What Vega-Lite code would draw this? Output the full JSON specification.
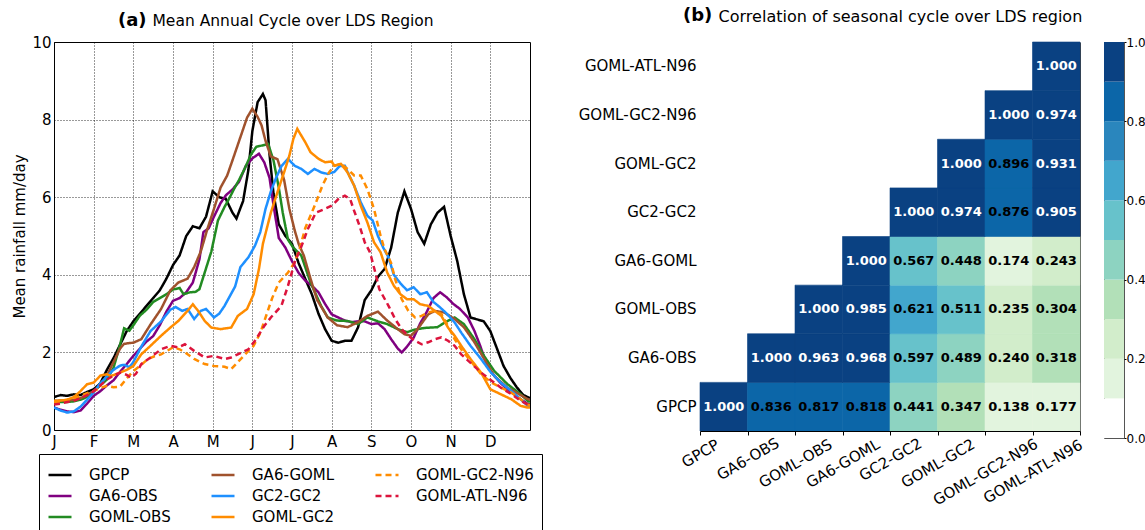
{
  "$schema": "https://vega.github.io/schema/vega-lite/v6.json",
  "padding": {"left": 12, "top": 6, "right": 0, "bottom": 0},
  "config": {
    "font": "DejaVu Sans",
    "view": {"stroke": null},
    "axis": {"labelColor": "black", "titleColor": "black", "domainColor": "black", "tickColor": "black", "labelFont": "DejaVu Sans", "titleFont": "DejaVu Sans"},
    "title": {"font": "DejaVu Sans", "subtitleFont": "DejaVu Sans", "color": "black", "subtitleColor": "black"}
  },
  "bounds": "flush",
  "spacing": 170,
  "resolve": {"scale": {"color": "independent", "strokeDash": "independent"}},
  "hconcat": [
    {
      "width": 476,
      "height": 388,
      "view": {"stroke": "black", "strokeWidth": 1},
      "title": {"text": "(a)", "subtitle": "\u200b\u00a0\u00a0\u00a0\u00a0\u00a0\u00a0\u00a0Mean Annual Cycle over LDS Region", "anchor": "start", "frame": "group", "dx": 64, "fontSize": 18, "fontWeight": "bold", "subtitleFontSize": 15.5, "subtitleFontWeight": "normal", "subtitlePadding": -16, "offset": 5},
      "data": {"values": [
        {"s":"GPCP","d":0,"v":0.85},{"s":"GPCP","d":5,"v":0.9},{"s":"GPCP","d":10,"v":0.88},{"s":"GPCP","d":15,"v":0.92},{"s":"GPCP","d":20,"v":0.9},{"s":"GPCP","d":25,"v":0.98},{"s":"GPCP","d":30,"v":1.05},{"s":"GPCP","d":35,"v":1.2},{"s":"GPCP","d":40,"v":1.55},{"s":"GPCP","d":45,"v":1.85},{"s":"GPCP","d":50,"v":2.2},{"s":"GPCP","d":55,"v":2.55},{"s":"GPCP","d":60,"v":2.8},{"s":"GPCP","d":65,"v":3.0},{"s":"GPCP","d":70,"v":3.2},{"s":"GPCP","d":75,"v":3.4},{"s":"GPCP","d":80,"v":3.6},{"s":"GPCP","d":85,"v":3.9},{"s":"GPCP","d":90,"v":4.25},{"s":"GPCP","d":95,"v":4.5},{"s":"GPCP","d":100,"v":5.0},{"s":"GPCP","d":105,"v":5.25},{"s":"GPCP","d":110,"v":5.2},{"s":"GPCP","d":115,"v":5.5},{"s":"GPCP","d":120,"v":6.15},{"s":"GPCP","d":125,"v":6.0},{"s":"GPCP","d":130,"v":5.95},{"s":"GPCP","d":135,"v":5.6},{"s":"GPCP","d":138,"v":5.45},{"s":"GPCP","d":143,"v":5.9},{"s":"GPCP","d":147,"v":6.7},{"s":"GPCP","d":150,"v":7.7},{"s":"GPCP","d":154,"v":8.45},{"s":"GPCP","d":158,"v":8.66},{"s":"GPCP","d":160,"v":8.5},{"s":"GPCP","d":163,"v":7.1},{"s":"GPCP","d":166,"v":6.1},{"s":"GPCP","d":170,"v":5.3},{"s":"GPCP","d":175,"v":5.0},{"s":"GPCP","d":180,"v":4.8},{"s":"GPCP","d":185,"v":4.3},{"s":"GPCP","d":190,"v":3.9},{"s":"GPCP","d":195,"v":3.5},{"s":"GPCP","d":200,"v":3.0},{"s":"GPCP","d":205,"v":2.6},{"s":"GPCP","d":210,"v":2.3},{"s":"GPCP","d":215,"v":2.25},{"s":"GPCP","d":220,"v":2.3},{"s":"GPCP","d":225,"v":2.3},{"s":"GPCP","d":230,"v":2.65},{"s":"GPCP","d":235,"v":3.35},{"s":"GPCP","d":240,"v":3.6},{"s":"GPCP","d":245,"v":3.95},{"s":"GPCP","d":250,"v":4.15},{"s":"GPCP","d":255,"v":4.7},{"s":"GPCP","d":260,"v":5.6},{"s":"GPCP","d":265,"v":6.15},{"s":"GPCP","d":270,"v":5.7},{"s":"GPCP","d":275,"v":5.1},{"s":"GPCP","d":280,"v":4.8},{"s":"GPCP","d":285,"v":5.3},{"s":"GPCP","d":290,"v":5.6},{"s":"GPCP","d":295,"v":5.75},{"s":"GPCP","d":300,"v":5.0},{"s":"GPCP","d":305,"v":4.35},{"s":"GPCP","d":310,"v":3.5},{"s":"GPCP","d":315,"v":2.9},{"s":"GPCP","d":320,"v":2.85},{"s":"GPCP","d":325,"v":2.8},{"s":"GPCP","d":330,"v":2.55},{"s":"GPCP","d":335,"v":2.1},{"s":"GPCP","d":340,"v":1.65},{"s":"GPCP","d":345,"v":1.35},{"s":"GPCP","d":350,"v":1.1},{"s":"GPCP","d":355,"v":0.9},{"s":"GPCP","d":360,"v":0.82},
        {"s":"GA6-OBS","d":0,"v":0.58},{"s":"GA6-OBS","d":5,"v":0.52},{"s":"GA6-OBS","d":10,"v":0.48},{"s":"GA6-OBS","d":15,"v":0.46},{"s":"GA6-OBS","d":20,"v":0.5},{"s":"GA6-OBS","d":25,"v":0.68},{"s":"GA6-OBS","d":30,"v":0.88},{"s":"GA6-OBS","d":35,"v":1.0},{"s":"GA6-OBS","d":40,"v":1.15},{"s":"GA6-OBS","d":45,"v":1.28},{"s":"GA6-OBS","d":50,"v":1.5},{"s":"GA6-OBS","d":55,"v":1.7},{"s":"GA6-OBS","d":60,"v":1.91},{"s":"GA6-OBS","d":65,"v":2.1},{"s":"GA6-OBS","d":70,"v":2.28},{"s":"GA6-OBS","d":75,"v":2.42},{"s":"GA6-OBS","d":80,"v":2.7},{"s":"GA6-OBS","d":85,"v":3.05},{"s":"GA6-OBS","d":90,"v":3.33},{"s":"GA6-OBS","d":95,"v":3.4},{"s":"GA6-OBS","d":100,"v":3.55},{"s":"GA6-OBS","d":105,"v":3.8},{"s":"GA6-OBS","d":110,"v":4.4},{"s":"GA6-OBS","d":113,"v":5.1},{"s":"GA6-OBS","d":117,"v":5.2},{"s":"GA6-OBS","d":121,"v":5.5},{"s":"GA6-OBS","d":126,"v":5.85},{"s":"GA6-OBS","d":130,"v":6.05},{"s":"GA6-OBS","d":135,"v":6.2},{"s":"GA6-OBS","d":140,"v":6.4},{"s":"GA6-OBS","d":145,"v":6.8},{"s":"GA6-OBS","d":150,"v":7.0},{"s":"GA6-OBS","d":155,"v":7.12},{"s":"GA6-OBS","d":159,"v":6.9},{"s":"GA6-OBS","d":163,"v":6.5},{"s":"GA6-OBS","d":166,"v":5.8},{"s":"GA6-OBS","d":170,"v":4.95},{"s":"GA6-OBS","d":175,"v":4.7},{"s":"GA6-OBS","d":180,"v":4.35},{"s":"GA6-OBS","d":185,"v":4.05},{"s":"GA6-OBS","d":190,"v":3.85},{"s":"GA6-OBS","d":195,"v":3.72},{"s":"GA6-OBS","d":200,"v":3.55},{"s":"GA6-OBS","d":205,"v":3.25},{"s":"GA6-OBS","d":210,"v":2.98},{"s":"GA6-OBS","d":215,"v":2.9},{"s":"GA6-OBS","d":220,"v":2.82},{"s":"GA6-OBS","d":225,"v":2.78},{"s":"GA6-OBS","d":230,"v":2.8},{"s":"GA6-OBS","d":235,"v":2.8},{"s":"GA6-OBS","d":240,"v":2.73},{"s":"GA6-OBS","d":245,"v":2.75},{"s":"GA6-OBS","d":250,"v":2.6},{"s":"GA6-OBS","d":255,"v":2.34},{"s":"GA6-OBS","d":260,"v":2.1},{"s":"GA6-OBS","d":263,"v":2.0},{"s":"GA6-OBS","d":267,"v":2.15},{"s":"GA6-OBS","d":272,"v":2.38},{"s":"GA6-OBS","d":277,"v":2.75},{"s":"GA6-OBS","d":282,"v":3.05},{"s":"GA6-OBS","d":287,"v":3.4},{"s":"GA6-OBS","d":292,"v":3.55},{"s":"GA6-OBS","d":297,"v":3.42},{"s":"GA6-OBS","d":302,"v":3.25},{"s":"GA6-OBS","d":307,"v":3.12},{"s":"GA6-OBS","d":313,"v":2.9},{"s":"GA6-OBS","d":318,"v":2.55},{"s":"GA6-OBS","d":322,"v":2.2},{"s":"GA6-OBS","d":328,"v":1.62},{"s":"GA6-OBS","d":333,"v":1.4},{"s":"GA6-OBS","d":338,"v":1.2},{"s":"GA6-OBS","d":343,"v":1.05},{"s":"GA6-OBS","d":348,"v":0.92},{"s":"GA6-OBS","d":353,"v":0.79},{"s":"GA6-OBS","d":358,"v":0.68},{"s":"GA6-OBS","d":360,"v":0.66},
        {"s":"GOML-OBS","d":0,"v":0.71},{"s":"GOML-OBS","d":5,"v":0.72},{"s":"GOML-OBS","d":10,"v":0.72},{"s":"GOML-OBS","d":15,"v":0.74},{"s":"GOML-OBS","d":20,"v":0.78},{"s":"GOML-OBS","d":25,"v":0.85},{"s":"GOML-OBS","d":30,"v":1.0},{"s":"GOML-OBS","d":35,"v":1.15},{"s":"GOML-OBS","d":40,"v":1.3},{"s":"GOML-OBS","d":45,"v":1.6},{"s":"GOML-OBS","d":50,"v":2.2},{"s":"GOML-OBS","d":53,"v":2.62},{"s":"GOML-OBS","d":57,"v":2.56},{"s":"GOML-OBS","d":60,"v":2.7},{"s":"GOML-OBS","d":65,"v":2.95},{"s":"GOML-OBS","d":70,"v":3.1},{"s":"GOML-OBS","d":75,"v":3.3},{"s":"GOML-OBS","d":80,"v":3.4},{"s":"GOML-OBS","d":85,"v":3.5},{"s":"GOML-OBS","d":90,"v":3.62},{"s":"GOML-OBS","d":95,"v":3.66},{"s":"GOML-OBS","d":98,"v":3.5},{"s":"GOML-OBS","d":103,"v":3.55},{"s":"GOML-OBS","d":107,"v":3.56},{"s":"GOML-OBS","d":110,"v":3.63},{"s":"GOML-OBS","d":114,"v":4.06},{"s":"GOML-OBS","d":119,"v":4.6},{"s":"GOML-OBS","d":124,"v":5.4},{"s":"GOML-OBS","d":129,"v":5.75},{"s":"GOML-OBS","d":133,"v":6.0},{"s":"GOML-OBS","d":136,"v":6.2},{"s":"GOML-OBS","d":140,"v":6.45},{"s":"GOML-OBS","d":144,"v":6.72},{"s":"GOML-OBS","d":149,"v":7.1},{"s":"GOML-OBS","d":153,"v":7.3},{"s":"GOML-OBS","d":157,"v":7.33},{"s":"GOML-OBS","d":162,"v":7.37},{"s":"GOML-OBS","d":166,"v":6.95},{"s":"GOML-OBS","d":170,"v":6.25},{"s":"GOML-OBS","d":173,"v":5.6},{"s":"GOML-OBS","d":177,"v":4.9},{"s":"GOML-OBS","d":181,"v":4.7},{"s":"GOML-OBS","d":187,"v":4.5},{"s":"GOML-OBS","d":194,"v":3.8},{"s":"GOML-OBS","d":202,"v":3.2},{"s":"GOML-OBS","d":207,"v":2.9},{"s":"GOML-OBS","d":214,"v":2.82},{"s":"GOML-OBS","d":222,"v":2.81},{"s":"GOML-OBS","d":230,"v":2.73},{"s":"GOML-OBS","d":237,"v":2.9},{"s":"GOML-OBS","d":245,"v":2.8},{"s":"GOML-OBS","d":252,"v":2.73},{"s":"GOML-OBS","d":260,"v":2.6},{"s":"GOML-OBS","d":267,"v":2.52},{"s":"GOML-OBS","d":272,"v":2.58},{"s":"GOML-OBS","d":280,"v":2.63},{"s":"GOML-OBS","d":290,"v":2.65},{"s":"GOML-OBS","d":296,"v":2.78},{"s":"GOML-OBS","d":303,"v":2.9},{"s":"GOML-OBS","d":310,"v":2.73},{"s":"GOML-OBS","d":318,"v":2.34},{"s":"GOML-OBS","d":325,"v":1.92},{"s":"GOML-OBS","d":333,"v":1.52},{"s":"GOML-OBS","d":343,"v":1.18},{"s":"GOML-OBS","d":353,"v":0.92},{"s":"GOML-OBS","d":358,"v":0.76},{"s":"GOML-OBS","d":360,"v":0.72},
        {"s":"GA6-GOML","d":0,"v":0.75},{"s":"GA6-GOML","d":5,"v":0.76},{"s":"GA6-GOML","d":10,"v":0.76},{"s":"GA6-GOML","d":15,"v":0.78},{"s":"GA6-GOML","d":20,"v":0.82},{"s":"GA6-GOML","d":25,"v":0.9},{"s":"GA6-GOML","d":30,"v":1.0},{"s":"GA6-GOML","d":35,"v":1.15},{"s":"GA6-GOML","d":40,"v":1.4},{"s":"GA6-GOML","d":45,"v":1.75},{"s":"GA6-GOML","d":50,"v":2.1},{"s":"GA6-GOML","d":53,"v":2.22},{"s":"GA6-GOML","d":57,"v":2.24},{"s":"GA6-GOML","d":60,"v":2.25},{"s":"GA6-GOML","d":66,"v":2.34},{"s":"GA6-GOML","d":73,"v":2.72},{"s":"GA6-GOML","d":81,"v":3.12},{"s":"GA6-GOML","d":88,"v":3.6},{"s":"GA6-GOML","d":94,"v":3.8},{"s":"GA6-GOML","d":101,"v":3.9},{"s":"GA6-GOML","d":106,"v":4.2},{"s":"GA6-GOML","d":111,"v":4.6},{"s":"GA6-GOML","d":116,"v":5.18},{"s":"GA6-GOML","d":121,"v":5.7},{"s":"GA6-GOML","d":126,"v":6.25},{"s":"GA6-GOML","d":131,"v":6.56},{"s":"GA6-GOML","d":136,"v":7.05},{"s":"GA6-GOML","d":141,"v":7.55},{"s":"GA6-GOML","d":146,"v":8.05},{"s":"GA6-GOML","d":150,"v":8.28},{"s":"GA6-GOML","d":154,"v":8.07},{"s":"GA6-GOML","d":157,"v":7.85},{"s":"GA6-GOML","d":160,"v":7.45},{"s":"GA6-GOML","d":164,"v":7.05},{"s":"GA6-GOML","d":169,"v":6.98},{"s":"GA6-GOML","d":174,"v":6.45},{"s":"GA6-GOML","d":178,"v":5.7},{"s":"GA6-GOML","d":182,"v":5.15},{"s":"GA6-GOML","d":185,"v":4.8},{"s":"GA6-GOML","d":189,"v":4.49},{"s":"GA6-GOML","d":194,"v":3.9},{"s":"GA6-GOML","d":199,"v":3.35},{"s":"GA6-GOML","d":207,"v":2.9},{"s":"GA6-GOML","d":214,"v":2.7},{"s":"GA6-GOML","d":222,"v":2.65},{"s":"GA6-GOML","d":230,"v":2.78},{"s":"GA6-GOML","d":237,"v":2.94},{"s":"GA6-GOML","d":245,"v":3.05},{"s":"GA6-GOML","d":252,"v":2.82},{"s":"GA6-GOML","d":260,"v":2.6},{"s":"GA6-GOML","d":265,"v":2.47},{"s":"GA6-GOML","d":270,"v":2.43},{"s":"GA6-GOML","d":275,"v":2.6},{"s":"GA6-GOML","d":283,"v":2.98},{"s":"GA6-GOML","d":288,"v":3.07},{"s":"GA6-GOML","d":295,"v":3.03},{"s":"GA6-GOML","d":303,"v":2.86},{"s":"GA6-GOML","d":310,"v":2.65},{"s":"GA6-GOML","d":318,"v":2.26},{"s":"GA6-GOML","d":325,"v":1.85},{"s":"GA6-GOML","d":333,"v":1.39},{"s":"GA6-GOML","d":343,"v":1.09},{"s":"GA6-GOML","d":353,"v":0.9},{"s":"GA6-GOML","d":358,"v":0.8},{"s":"GA6-GOML","d":360,"v":0.78},
        {"s":"GC2-GC2","d":0,"v":0.58},{"s":"GC2-GC2","d":5,"v":0.5},{"s":"GC2-GC2","d":10,"v":0.45},{"s":"GC2-GC2","d":15,"v":0.48},{"s":"GC2-GC2","d":20,"v":0.6},{"s":"GC2-GC2","d":25,"v":0.78},{"s":"GC2-GC2","d":30,"v":0.97},{"s":"GC2-GC2","d":35,"v":1.2},{"s":"GC2-GC2","d":40,"v":1.38},{"s":"GC2-GC2","d":45,"v":1.55},{"s":"GC2-GC2","d":50,"v":1.66},{"s":"GC2-GC2","d":53,"v":1.68},{"s":"GC2-GC2","d":57,"v":1.62},{"s":"GC2-GC2","d":60,"v":1.75},{"s":"GC2-GC2","d":66,"v":2.15},{"s":"GC2-GC2","d":73,"v":2.55},{"s":"GC2-GC2","d":81,"v":2.8},{"s":"GC2-GC2","d":88,"v":3.1},{"s":"GC2-GC2","d":92,"v":3.17},{"s":"GC2-GC2","d":97,"v":3.07},{"s":"GC2-GC2","d":101,"v":3.12},{"s":"GC2-GC2","d":106,"v":2.86},{"s":"GC2-GC2","d":111,"v":3.07},{"s":"GC2-GC2","d":115,"v":3.12},{"s":"GC2-GC2","d":121,"v":2.9},{"s":"GC2-GC2","d":125,"v":3.0},{"s":"GC2-GC2","d":129,"v":3.2},{"s":"GC2-GC2","d":133,"v":3.45},{"s":"GC2-GC2","d":137,"v":3.7},{"s":"GC2-GC2","d":141,"v":4.2},{"s":"GC2-GC2","d":147,"v":4.45},{"s":"GC2-GC2","d":152,"v":4.75},{"s":"GC2-GC2","d":156,"v":5.1},{"s":"GC2-GC2","d":160,"v":5.7},{"s":"GC2-GC2","d":164,"v":6.15},{"s":"GC2-GC2","d":168,"v":6.5},{"s":"GC2-GC2","d":172,"v":6.8},{"s":"GC2-GC2","d":177,"v":6.99},{"s":"GC2-GC2","d":182,"v":6.81},{"s":"GC2-GC2","d":187,"v":6.73},{"s":"GC2-GC2","d":192,"v":6.6},{"s":"GC2-GC2","d":197,"v":6.73},{"s":"GC2-GC2","d":202,"v":6.64},{"s":"GC2-GC2","d":207,"v":6.6},{"s":"GC2-GC2","d":212,"v":6.65},{"s":"GC2-GC2","d":216,"v":6.8},{"s":"GC2-GC2","d":220,"v":6.81},{"s":"GC2-GC2","d":222,"v":6.65},{"s":"GC2-GC2","d":227,"v":6.3},{"s":"GC2-GC2","d":232,"v":5.87},{"s":"GC2-GC2","d":237,"v":5.52},{"s":"GC2-GC2","d":241,"v":5.4},{"s":"GC2-GC2","d":245,"v":5.0},{"s":"GC2-GC2","d":249,"v":4.7},{"s":"GC2-GC2","d":253,"v":4.45},{"s":"GC2-GC2","d":257,"v":4.0},{"s":"GC2-GC2","d":262,"v":3.78},{"s":"GC2-GC2","d":267,"v":3.6},{"s":"GC2-GC2","d":272,"v":3.68},{"s":"GC2-GC2","d":277,"v":3.5},{"s":"GC2-GC2","d":282,"v":3.55},{"s":"GC2-GC2","d":287,"v":3.3},{"s":"GC2-GC2","d":292,"v":3.16},{"s":"GC2-GC2","d":297,"v":3.0},{"s":"GC2-GC2","d":303,"v":2.77},{"s":"GC2-GC2","d":308,"v":2.51},{"s":"GC2-GC2","d":315,"v":2.17},{"s":"GC2-GC2","d":323,"v":1.83},{"s":"GC2-GC2","d":330,"v":1.5},{"s":"GC2-GC2","d":338,"v":1.22},{"s":"GC2-GC2","d":346,"v":1.0},{"s":"GC2-GC2","d":353,"v":0.79},{"s":"GC2-GC2","d":358,"v":0.63},{"s":"GC2-GC2","d":360,"v":0.6},
        {"s":"GOML-GC2","d":0,"v":0.75},{"s":"GOML-GC2","d":5,"v":0.76},{"s":"GOML-GC2","d":10,"v":0.78},{"s":"GOML-GC2","d":15,"v":0.85},{"s":"GOML-GC2","d":20,"v":1.0},{"s":"GOML-GC2","d":25,"v":1.18},{"s":"GOML-GC2","d":30,"v":1.22},{"s":"GOML-GC2","d":35,"v":1.4},{"s":"GOML-GC2","d":40,"v":1.44},{"s":"GOML-GC2","d":43,"v":1.39},{"s":"GOML-GC2","d":50,"v":1.48},{"s":"GOML-GC2","d":55,"v":1.55},{"s":"GOML-GC2","d":60,"v":1.65},{"s":"GOML-GC2","d":66,"v":1.95},{"s":"GOML-GC2","d":73,"v":2.17},{"s":"GOML-GC2","d":81,"v":2.43},{"s":"GOML-GC2","d":88,"v":2.64},{"s":"GOML-GC2","d":94,"v":2.81},{"s":"GOML-GC2","d":101,"v":3.07},{"s":"GOML-GC2","d":105,"v":3.24},{"s":"GOML-GC2","d":109,"v":3.07},{"s":"GOML-GC2","d":114,"v":2.81},{"s":"GOML-GC2","d":119,"v":2.64},{"s":"GOML-GC2","d":126,"v":2.6},{"s":"GOML-GC2","d":134,"v":2.64},{"s":"GOML-GC2","d":139,"v":2.94},{"s":"GOML-GC2","d":146,"v":3.12},{"s":"GOML-GC2","d":151,"v":3.5},{"s":"GOML-GC2","d":155,"v":4.15},{"s":"GOML-GC2","d":158,"v":4.8},{"s":"GOML-GC2","d":161,"v":5.2},{"s":"GOML-GC2","d":164,"v":5.6},{"s":"GOML-GC2","d":169,"v":6.13},{"s":"GOML-GC2","d":174,"v":6.64},{"s":"GOML-GC2","d":178,"v":7.07},{"s":"GOML-GC2","d":181,"v":7.5},{"s":"GOML-GC2","d":184,"v":7.76},{"s":"GOML-GC2","d":187,"v":7.59},{"s":"GOML-GC2","d":190,"v":7.42},{"s":"GOML-GC2","d":194,"v":7.16},{"s":"GOML-GC2","d":200,"v":6.99},{"s":"GOML-GC2","d":205,"v":6.9},{"s":"GOML-GC2","d":210,"v":6.92},{"s":"GOML-GC2","d":212,"v":6.81},{"s":"GOML-GC2","d":217,"v":6.86},{"s":"GOML-GC2","d":222,"v":6.64},{"s":"GOML-GC2","d":227,"v":6.3},{"s":"GOML-GC2","d":232,"v":5.78},{"s":"GOML-GC2","d":237,"v":5.35},{"s":"GOML-GC2","d":242,"v":4.84},{"s":"GOML-GC2","d":247,"v":4.58},{"s":"GOML-GC2","d":252,"v":4.06},{"s":"GOML-GC2","d":257,"v":3.72},{"s":"GOML-GC2","d":262,"v":3.5},{"s":"GOML-GC2","d":267,"v":3.37},{"s":"GOML-GC2","d":272,"v":3.37},{"s":"GOML-GC2","d":277,"v":3.24},{"s":"GOML-GC2","d":283,"v":3.2},{"s":"GOML-GC2","d":288,"v":3.07},{"s":"GOML-GC2","d":293,"v":2.94},{"s":"GOML-GC2","d":298,"v":2.64},{"s":"GOML-GC2","d":303,"v":2.43},{"s":"GOML-GC2","d":308,"v":2.17},{"s":"GOML-GC2","d":315,"v":1.83},{"s":"GOML-GC2","d":323,"v":1.48},{"s":"GOML-GC2","d":330,"v":1.05},{"s":"GOML-GC2","d":338,"v":0.92},{"s":"GOML-GC2","d":346,"v":0.79},{"s":"GOML-GC2","d":353,"v":0.62},{"s":"GOML-GC2","d":358,"v":0.58},{"s":"GOML-GC2","d":360,"v":0.58},
        {"s":"GOML-GC2-N96","d":0,"v":0.71},{"s":"GOML-GC2-N96","d":5,"v":0.74},{"s":"GOML-GC2-N96","d":10,"v":0.78},{"s":"GOML-GC2-N96","d":15,"v":0.82},{"s":"GOML-GC2-N96","d":20,"v":0.88},{"s":"GOML-GC2-N96","d":25,"v":0.95},{"s":"GOML-GC2-N96","d":30,"v":1.0},{"s":"GOML-GC2-N96","d":35,"v":1.08},{"s":"GOML-GC2-N96","d":40,"v":1.14},{"s":"GOML-GC2-N96","d":45,"v":1.1},{"s":"GOML-GC2-N96","d":50,"v":1.12},{"s":"GOML-GC2-N96","d":55,"v":1.33},{"s":"GOML-GC2-N96","d":60,"v":1.52},{"s":"GOML-GC2-N96","d":65,"v":1.65},{"s":"GOML-GC2-N96","d":71,"v":1.83},{"s":"GOML-GC2-N96","d":76,"v":1.9},{"s":"GOML-GC2-N96","d":81,"v":1.95},{"s":"GOML-GC2-N96","d":86,"v":2.05},{"s":"GOML-GC2-N96","d":90,"v":2.13},{"s":"GOML-GC2-N96","d":95,"v":2.08},{"s":"GOML-GC2-N96","d":99,"v":2.0},{"s":"GOML-GC2-N96","d":106,"v":1.83},{"s":"GOML-GC2-N96","d":114,"v":1.7},{"s":"GOML-GC2-N96","d":121,"v":1.65},{"s":"GOML-GC2-N96","d":129,"v":1.63},{"s":"GOML-GC2-N96","d":134,"v":1.57},{"s":"GOML-GC2-N96","d":139,"v":1.75},{"s":"GOML-GC2-N96","d":146,"v":2.0},{"s":"GOML-GC2-N96","d":151,"v":2.17},{"s":"GOML-GC2-N96","d":156,"v":2.5},{"s":"GOML-GC2-N96","d":160,"v":2.9},{"s":"GOML-GC2-N96","d":165,"v":3.4},{"s":"GOML-GC2-N96","d":170,"v":3.8},{"s":"GOML-GC2-N96","d":177,"v":4.06},{"s":"GOML-GC2-N96","d":182,"v":4.32},{"s":"GOML-GC2-N96","d":186,"v":4.7},{"s":"GOML-GC2-N96","d":190,"v":5.2},{"s":"GOML-GC2-N96","d":198,"v":5.85},{"s":"GOML-GC2-N96","d":203,"v":6.3},{"s":"GOML-GC2-N96","d":208,"v":6.64},{"s":"GOML-GC2-N96","d":212,"v":6.81},{"s":"GOML-GC2-N96","d":217,"v":6.86},{"s":"GOML-GC2-N96","d":222,"v":6.73},{"s":"GOML-GC2-N96","d":227,"v":6.56},{"s":"GOML-GC2-N96","d":232,"v":6.56},{"s":"GOML-GC2-N96","d":237,"v":6.21},{"s":"GOML-GC2-N96","d":242,"v":5.7},{"s":"GOML-GC2-N96","d":247,"v":5.0},{"s":"GOML-GC2-N96","d":250,"v":4.66},{"s":"GOML-GC2-N96","d":255,"v":4.3},{"s":"GOML-GC2-N96","d":258,"v":3.89},{"s":"GOML-GC2-N96","d":263,"v":3.37},{"s":"GOML-GC2-N96","d":268,"v":3.07},{"s":"GOML-GC2-N96","d":273,"v":2.9},{"s":"GOML-GC2-N96","d":278,"v":2.94},{"s":"GOML-GC2-N96","d":283,"v":3.03},{"s":"GOML-GC2-N96","d":288,"v":3.07},{"s":"GOML-GC2-N96","d":293,"v":2.99},{"s":"GOML-GC2-N96","d":298,"v":2.68},{"s":"GOML-GC2-N96","d":303,"v":2.34},{"s":"GOML-GC2-N96","d":308,"v":2.08},{"s":"GOML-GC2-N96","d":316,"v":1.74},{"s":"GOML-GC2-N96","d":323,"v":1.44},{"s":"GOML-GC2-N96","d":331,"v":1.22},{"s":"GOML-GC2-N96","d":338,"v":1.09},{"s":"GOML-GC2-N96","d":346,"v":0.96},{"s":"GOML-GC2-N96","d":353,"v":0.79},{"s":"GOML-GC2-N96","d":358,"v":0.66},{"s":"GOML-GC2-N96","d":360,"v":0.64},
        {"s":"GOML-ATL-N96","d":0,"v":0.66},{"s":"GOML-ATL-N96","d":5,"v":0.68},{"s":"GOML-ATL-N96","d":10,"v":0.72},{"s":"GOML-ATL-N96","d":15,"v":0.75},{"s":"GOML-ATL-N96","d":20,"v":0.82},{"s":"GOML-ATL-N96","d":25,"v":0.9},{"s":"GOML-ATL-N96","d":30,"v":1.0},{"s":"GOML-ATL-N96","d":35,"v":1.15},{"s":"GOML-ATL-N96","d":40,"v":1.3},{"s":"GOML-ATL-N96","d":45,"v":1.4},{"s":"GOML-ATL-N96","d":50,"v":1.48},{"s":"GOML-ATL-N96","d":55,"v":1.42},{"s":"GOML-ATL-N96","d":58,"v":1.35},{"s":"GOML-ATL-N96","d":62,"v":1.45},{"s":"GOML-ATL-N96","d":66,"v":1.7},{"s":"GOML-ATL-N96","d":73,"v":1.87},{"s":"GOML-ATL-N96","d":81,"v":2.08},{"s":"GOML-ATL-N96","d":88,"v":2.17},{"s":"GOML-ATL-N96","d":94,"v":2.13},{"s":"GOML-ATL-N96","d":99,"v":2.21},{"s":"GOML-ATL-N96","d":106,"v":2.04},{"s":"GOML-ATL-N96","d":114,"v":1.87},{"s":"GOML-ATL-N96","d":121,"v":1.91},{"s":"GOML-ATL-N96","d":129,"v":1.83},{"s":"GOML-ATL-N96","d":134,"v":1.87},{"s":"GOML-ATL-N96","d":139,"v":1.95},{"s":"GOML-ATL-N96","d":147,"v":2.08},{"s":"GOML-ATL-N96","d":152,"v":2.3},{"s":"GOML-ATL-N96","d":159,"v":2.68},{"s":"GOML-ATL-N96","d":164,"v":2.9},{"s":"GOML-ATL-N96","d":172,"v":3.2},{"s":"GOML-ATL-N96","d":177,"v":3.72},{"s":"GOML-ATL-N96","d":182,"v":4.32},{"s":"GOML-ATL-N96","d":187,"v":4.72},{"s":"GOML-ATL-N96","d":192,"v":5.18},{"s":"GOML-ATL-N96","d":198,"v":5.6},{"s":"GOML-ATL-N96","d":205,"v":5.7},{"s":"GOML-ATL-N96","d":210,"v":5.78},{"s":"GOML-ATL-N96","d":215,"v":5.95},{"s":"GOML-ATL-N96","d":220,"v":6.04},{"s":"GOML-ATL-N96","d":224,"v":5.95},{"s":"GOML-ATL-N96","d":227,"v":5.65},{"s":"GOML-ATL-N96","d":231,"v":5.27},{"s":"GOML-ATL-N96","d":235,"v":4.84},{"s":"GOML-ATL-N96","d":239,"v":4.58},{"s":"GOML-ATL-N96","d":243,"v":4.06},{"s":"GOML-ATL-N96","d":246,"v":3.63},{"s":"GOML-ATL-N96","d":253,"v":3.2},{"s":"GOML-ATL-N96","d":258,"v":2.86},{"s":"GOML-ATL-N96","d":263,"v":2.6},{"s":"GOML-ATL-N96","d":268,"v":2.43},{"s":"GOML-ATL-N96","d":273,"v":2.3},{"s":"GOML-ATL-N96","d":278,"v":2.21},{"s":"GOML-ATL-N96","d":283,"v":2.26},{"s":"GOML-ATL-N96","d":288,"v":2.34},{"s":"GOML-ATL-N96","d":293,"v":2.39},{"s":"GOML-ATL-N96","d":298,"v":2.3},{"s":"GOML-ATL-N96","d":303,"v":2.17},{"s":"GOML-ATL-N96","d":308,"v":1.95},{"s":"GOML-ATL-N96","d":316,"v":1.7},{"s":"GOML-ATL-N96","d":323,"v":1.48},{"s":"GOML-ATL-N96","d":331,"v":1.27},{"s":"GOML-ATL-N96","d":338,"v":1.09},{"s":"GOML-ATL-N96","d":346,"v":0.92},{"s":"GOML-ATL-N96","d":353,"v":0.75},{"s":"GOML-ATL-N96","d":358,"v":0.66},{"s":"GOML-ATL-N96","d":360,"v":0.64}
      ]},
      "mark": {"type": "line", "strokeWidth": 2.5, "clip": true},
      "encoding": {
        "x": {"field": "d", "type": "quantitative", "scale": {"domain": [0, 360], "nice": false, "zero": false},
          "axis": {"values": [0,30,60,90,120,150,180,210,240,270,300,330], "labelExpr": "['J','F','M','A','M','J','J','A','S','O','N','D'][round(datum.value/30)]", "labelFlush": false, "labelAlign": "center", "labelFontSize": 15, "labelPadding": 4, "ticks": false, "domain": false, "grid": true, "gridColor": "black", "gridDash": [1, 2], "gridOpacity": 0.8, "title": null}},
        "y": {"field": "v", "type": "quantitative", "scale": {"domain": [0, 10], "nice": false},
          "axis": {"values": [0,2,4,6,8,10], "labelFontSize": 15, "labelPadding": 3, "ticks": false, "domain": false, "grid": true, "gridColor": "black", "gridDash": [1, 2], "gridOpacity": 0.8, "title": "Mean rainfall mm/day", "titleFontSize": 15, "titleFontWeight": "normal", "titlePadding": 4}},
        "color": {"field": "s", "type": "nominal",
          "scale": {"domain": ["GPCP","GA6-OBS","GOML-OBS","GA6-GOML","GC2-GC2","GOML-GC2","GOML-GC2-N96","GOML-ATL-N96"],
                    "range": ["#000000","#800080","#228b22","#a0522d","#1e90ff","#ff8c00","#ff8c00","#dc143c"]},
          "legend": {"title": null, "orient": "none", "legendX": -15, "legendY": 412, "columns": 3, "columnPadding": 35, "rowPadding": 0, "padding": 8, "symbolType": "stroke", "symbolSize": 529, "symbolStrokeWidth": 2.5, "labelOffset": 16, "labelFontSize": 15, "labelColor": "black", "strokeColor": "black", "fillColor": "white"}},
        "strokeDash": {"field": "s", "type": "nominal",
          "scale": {"domain": ["GPCP","GA6-OBS","GOML-OBS","GA6-GOML","GC2-GC2","GOML-GC2","GOML-GC2-N96","GOML-ATL-N96"],
                    "range": [[1,0],[1,0],[1,0],[1,0],[1,0],[1,0],[6,4],[6,4]]},
          "legend": {"title": null, "orient": "none", "legendX": -15, "legendY": 412, "columns": 3, "columnPadding": 35, "rowPadding": 0, "padding": 8, "symbolType": "stroke", "symbolSize": 529, "symbolStrokeWidth": 2.5, "labelOffset": 16, "labelFontSize": 15, "labelColor": "black", "strokeColor": "black", "fillColor": "white"}}
      }
    },
    {
      "bounds": "flush",
      "spacing": 24,
      "hconcat": [
        {
          "width": 380,
          "height": 389,
          "title": {"text": "(b)", "subtitle": "\u200b\u00a0\u00a0\u00a0\u00a0\u00a0\u00a0\u00a0Correlation of seasonal cycle over LDS region", "anchor": "start", "frame": "group", "dx": -17, "fontSize": 18, "fontWeight": "bold", "subtitleFontSize": 16, "subtitleFontWeight": "normal", "subtitlePadding": -16, "offset": 17},
          "data": {"values": [
            {"r":"GPCP","c":"GPCP","v":1.0},{"r":"GPCP","c":"GA6-OBS","v":0.836},{"r":"GPCP","c":"GOML-OBS","v":0.817},{"r":"GPCP","c":"GA6-GOML","v":0.818},{"r":"GPCP","c":"GC2-GC2","v":0.441},{"r":"GPCP","c":"GOML-GC2","v":0.347},{"r":"GPCP","c":"GOML-GC2-N96","v":0.138},{"r":"GPCP","c":"GOML-ATL-N96","v":0.177},
            {"r":"GA6-OBS","c":"GA6-OBS","v":1.0},{"r":"GA6-OBS","c":"GOML-OBS","v":0.963},{"r":"GA6-OBS","c":"GA6-GOML","v":0.968},{"r":"GA6-OBS","c":"GC2-GC2","v":0.597},{"r":"GA6-OBS","c":"GOML-GC2","v":0.489},{"r":"GA6-OBS","c":"GOML-GC2-N96","v":0.24},{"r":"GA6-OBS","c":"GOML-ATL-N96","v":0.318},
            {"r":"GOML-OBS","c":"GOML-OBS","v":1.0},{"r":"GOML-OBS","c":"GA6-GOML","v":0.985},{"r":"GOML-OBS","c":"GC2-GC2","v":0.621},{"r":"GOML-OBS","c":"GOML-GC2","v":0.511},{"r":"GOML-OBS","c":"GOML-GC2-N96","v":0.235},{"r":"GOML-OBS","c":"GOML-ATL-N96","v":0.304},
            {"r":"GA6-GOML","c":"GA6-GOML","v":1.0},{"r":"GA6-GOML","c":"GC2-GC2","v":0.567},{"r":"GA6-GOML","c":"GOML-GC2","v":0.448},{"r":"GA6-GOML","c":"GOML-GC2-N96","v":0.174},{"r":"GA6-GOML","c":"GOML-ATL-N96","v":0.243},
            {"r":"GC2-GC2","c":"GC2-GC2","v":1.0},{"r":"GC2-GC2","c":"GOML-GC2","v":0.974},{"r":"GC2-GC2","c":"GOML-GC2-N96","v":0.876},{"r":"GC2-GC2","c":"GOML-ATL-N96","v":0.905},
            {"r":"GOML-GC2","c":"GOML-GC2","v":1.0},{"r":"GOML-GC2","c":"GOML-GC2-N96","v":0.896},{"r":"GOML-GC2","c":"GOML-ATL-N96","v":0.931},
            {"r":"GOML-GC2-N96","c":"GOML-GC2-N96","v":1.0},{"r":"GOML-GC2-N96","c":"GOML-ATL-N96","v":0.974},
            {"r":"GOML-ATL-N96","c":"GOML-ATL-N96","v":1.0}
          ]},
          "encoding": {
            "x": {"field": "c", "type": "nominal", "sort": ["GPCP","GA6-OBS","GOML-OBS","GA6-GOML","GC2-GC2","GOML-GC2","GOML-GC2-N96","GOML-ATL-N96"],
              "scale": {"paddingInner": 0, "paddingOuter": 0},
              "axis": {"title": null, "labelAngle": -30, "labelAlign": "center", "labelBaseline": "middle", "labelOffset": -23.75, "labelFontSize": 15, "tickBand": "extent", "tickSize": 4, "domainColor": "black", "labelLimit": 300,
                "labelPadding": {"condition": [
                  {"test": "datum.value == 'GPCP'", "value": 18},
                  {"test": "datum.value == 'GA6-OBS'", "value": 23.5},
                  {"test": "datum.value == 'GC2-GC2'", "value": 24},
                  {"test": "datum.value == 'GOML-GC2-N96'", "value": 36.5},
                  {"test": "datum.value == 'GOML-ATL-N96'", "value": 36}
                ], "value": 28}}}
          },
          "layer": [
            {
              "mark": {"type": "rect", "strokeWidth": 0.6},
              "encoding": {
                "y": {"field": "r", "type": "nominal", "sort": ["GOML-ATL-N96","GOML-GC2-N96","GOML-GC2","GC2-GC2","GA6-GOML","GOML-OBS","GA6-OBS","GPCP"],
                  "scale": {"paddingInner": 0, "paddingOuter": 0},
                  "axis": {"title": null, "ticks": false, "domain": false, "labelFontSize": 15, "labelPadding": 4, "labelLimit": 300}},
                "color": {"field": "v", "type": "quantitative",
                  "scale": {"type": "threshold", "domain": [0.1,0.2,0.3,0.4,0.5,0.6,0.7,0.8,0.9],
                            "range": ["#ffffff","#e2f4de","#d2edcb","#b2e0b8","#8dd3c1","#67c2cb","#42a6cd","#2a86bd","#0c66a8","#0a4182"]},
                  "legend": null},
                "stroke": {"field": "v", "type": "quantitative",
                  "scale": {"type": "threshold", "domain": [0.1,0.2,0.3,0.4,0.5,0.6,0.7,0.8,0.9],
                            "range": ["#ffffff","#e2f4de","#d2edcb","#b2e0b8","#8dd3c1","#67c2cb","#42a6cd","#2a86bd","#0c66a8","#0a4182"]},
                  "legend": null}
              }
            },
            {
              "mark": {"type": "text", "fontSize": 13, "fontWeight": "bold", "font": "DejaVu Sans"},
              "encoding": {
                "y": {"field": "r", "type": "nominal", "sort": ["GOML-ATL-N96","GOML-GC2-N96","GOML-GC2","GC2-GC2","GA6-GOML","GOML-OBS","GA6-OBS","GPCP"],
                  "axis": {"orient": "right", "title": null, "labels": false, "ticks": false, "domain": true, "domainColor": "#444444"}},
                "text": {"field": "v", "type": "quantitative", "format": ".3f"},
                "color": {"condition": {"test": "datum.v >= 0.9", "value": "white"}, "value": "black"}
              }
            }
          ],
          "resolve": {"axis": {"y": "independent"}}
        },
        {
          "width": 20,
          "height": 396,
          "view": {"stroke": "#555555", "strokeWidth": 1},
          "data": {"values": [
            {"lo":0.0,"hi":0.1,"m":0.05},{"lo":0.1,"hi":0.2,"m":0.15},{"lo":0.2,"hi":0.3,"m":0.25},{"lo":0.3,"hi":0.4,"m":0.35},{"lo":0.4,"hi":0.5,"m":0.45},
            {"lo":0.5,"hi":0.6,"m":0.55},{"lo":0.6,"hi":0.7,"m":0.65},{"lo":0.7,"hi":0.8,"m":0.75},{"lo":0.8,"hi":0.9,"m":0.85},{"lo":0.9,"hi":1.0,"m":0.95}
          ]},
          "mark": {"type": "rect"},
          "encoding": {
            "y": {"field": "lo", "type": "quantitative", "scale": {"domain": [0, 1], "nice": false},
              "axis": {"orient": "right", "values": [0,0.2,0.4,0.6,0.8,1.0], "format": ".1f", "title": null, "tickSize": 2, "labelPadding": 0, "domain": false, "grid": false, "labelFontSize": 12}},
            "y2": {"field": "hi"},
            "color": {"field": "m", "type": "quantitative",
              "scale": {"type": "threshold", "domain": [0.1,0.2,0.3,0.4,0.5,0.6,0.7,0.8,0.9],
                        "range": ["#ffffff","#e2f4de","#d2edcb","#b2e0b8","#8dd3c1","#67c2cb","#42a6cd","#2a86bd","#0c66a8","#0a4182"]},
              "legend": null}
          }
        }
      ]
    }
  ]
}
